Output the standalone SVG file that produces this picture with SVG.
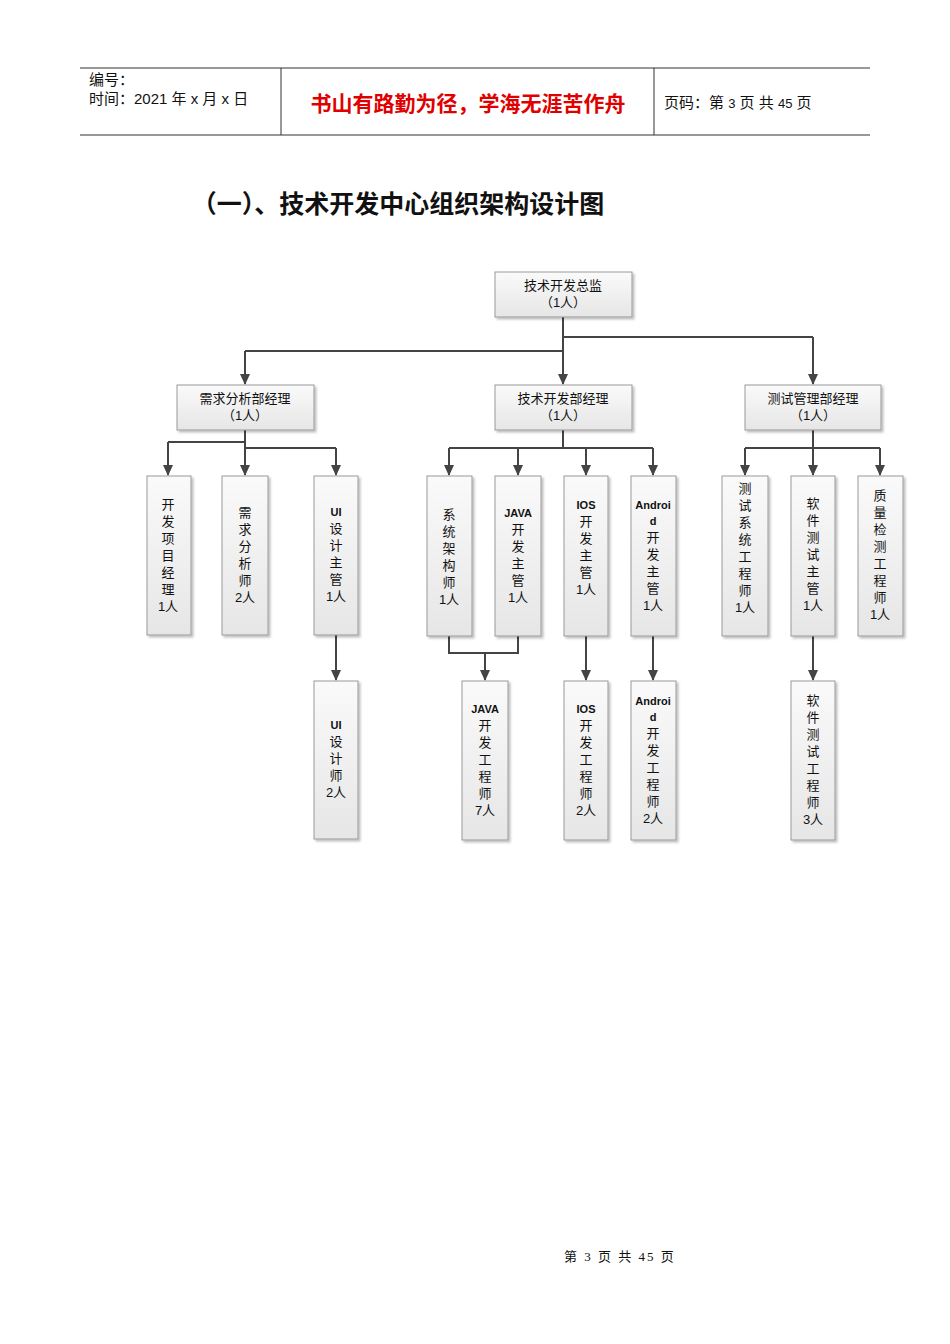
<svg xmlns="http://www.w3.org/2000/svg" width="950" height="1344" viewBox="0 0 950 1344">
<style>
text{font-family:"Liberation Sans","Noto Sans CJK SC",sans-serif;fill:#111}
.b{fill:url(#g);stroke:#999;stroke-width:1;filter:url(#s)}
.t{font-size:13px;text-anchor:middle}
.e{font-size:11px;font-weight:bold}
.c{fill:none;stroke:#444;stroke-width:2;marker-end:url(#a)}
.l{fill:none;stroke:#444;stroke-width:2}
</style>
<defs>
<linearGradient id="g" x1="0" y1="0" x2="0" y2="1"><stop offset="0" stop-color="#fafafa"/><stop offset="1" stop-color="#e6e6e6"/></linearGradient>
<filter id="s" x="-10%" y="-10%" width="130%" height="130%"><feDropShadow dx="2" dy="2" stdDeviation="1" flood-color="#000" flood-opacity="0.25"/></filter>
<marker id="a" markerWidth="11" markerHeight="11" refX="10" refY="5" orient="auto" viewBox="0 0 11 10" markerUnits="userSpaceOnUse"><path d="M0,0 L11,5 L0,10 z" fill="#444"/></marker>
</defs>
<rect width="950" height="1344" fill="#fff"/>
<g id="header">
<line x1="80" y1="68" x2="870" y2="68" stroke="#333"/>
<line x1="80" y1="135" x2="870" y2="135" stroke="#333"/>
<line x1="281" y1="68" x2="281" y2="135" stroke="#333"/>
<line x1="654" y1="68" x2="654" y2="135" stroke="#333"/>
<text x="89" y="85" font-size="15">编号：</text>
<text x="89" y="104" font-size="15">时间：2021 年 x 月 x 日</text>
<text x="468" y="111" font-size="21" font-weight="bold" text-anchor="middle" style="fill:#e00000">书山有路勤为径，学海无涯苦作舟</text>
<text x="664" y="108" font-size="15">页码：第 <tspan font-size="13">3</tspan> 页  共 <tspan font-size="13">45</tspan> 页</text>
</g>
<text x="398" y="213" font-size="25" font-weight="bold" text-anchor="middle" style="font-family:'Noto Sans CJK SC',sans-serif">（一）、技术开发中心组织架构设计图</text>
<g id="connectors">
<path class="l" d="M563,317 V351 H245"/><path class="c" d="M245,351 V384"/>
<path class="c" d="M563,317 V384"/>
<path class="l" d="M563,337 H813"/><path class="c" d="M813,337 V384"/>
<path class="l" d="M245,430 V442 H168"/><path class="c" d="M168,442 V475"/>
<path class="c" d="M245,430 V475"/>
<path class="l" d="M245,448 H336"/><path class="c" d="M336,448 V475"/>
<path class="l" d="M563,430 V448 H449"/><path class="c" d="M449,448 V475"/>
<path class="c" d="M518,448 V475"/>
<path class="l" d="M563,448 H653"/><path class="c" d="M586,448 V475"/><path class="c" d="M653,448 V475"/>
<path class="l" d="M813,430 V448 H745"/><path class="c" d="M745,448 V475"/>
<path class="c" d="M813,448 V475"/>
<path class="l" d="M813,448 H880"/><path class="c" d="M880,448 V475"/>
<path class="c" d="M336,635 V680"/>
<path class="l" d="M449,636 V653 H518 V636"/><path class="c" d="M485,653 V680"/>
<path class="c" d="M586,636 V680"/>
<path class="c" d="M653,636 V680"/>
<path class="c" d="M813,636 V680"/>
</g>
<g id="n0"><rect class="b" x="495" y="272" width="137" height="45"/><text class="t" x="563" y="290">技术开发总监<tspan x="563" dy="17">（1人）</tspan></text></g>
<g id="n1"><rect class="b" x="177" y="385" width="137" height="45"/><text class="t" x="245" y="403">需求分析部经理<tspan x="245" dy="17">（1人）</tspan></text></g>
<g id="n2"><rect class="b" x="495" y="385" width="137" height="45"/><text class="t" x="563" y="403">技术开发部经理<tspan x="563" dy="17">（1人）</tspan></text></g>
<g id="n3"><rect class="b" x="745" y="385" width="136" height="45"/><text class="t" x="813" y="403">测试管理部经理<tspan x="813" dy="17">（1人）</tspan></text></g>
<g id="n4"><rect class="b" x="147" y="476" width="44" height="159"/><text class="t" x="168" y="509">开<tspan x="168" dy="17">发</tspan><tspan x="168" dy="17">项</tspan><tspan x="168" dy="17">目</tspan><tspan x="168" dy="17">经</tspan><tspan x="168" dy="17">理</tspan><tspan x="168" dy="17">1人</tspan></text></g>
<g id="n5"><rect class="b" x="222" y="476" width="46" height="159"/><text class="t" x="245" y="517">需<tspan x="245" dy="17">求</tspan><tspan x="245" dy="17">分</tspan><tspan x="245" dy="17">析</tspan><tspan x="245" dy="17">师</tspan><tspan x="245" dy="17">2人</tspan></text></g>
<g id="n6"><rect class="b" x="314" y="476" width="44" height="159"/><text class="t" x="336" y="516"><tspan class="e">UI</tspan><tspan x="336" dy="17">设</tspan><tspan x="336" dy="17">计</tspan><tspan x="336" dy="17">主</tspan><tspan x="336" dy="17">管</tspan><tspan x="336" dy="17">1人</tspan></text></g>
<g id="n7"><rect class="b" x="427" y="476" width="45" height="160"/><text class="t" x="449" y="519">系<tspan x="449" dy="17">统</tspan><tspan x="449" dy="17">架</tspan><tspan x="449" dy="17">构</tspan><tspan x="449" dy="17">师</tspan><tspan x="449" dy="17">1人</tspan></text></g>
<g id="n8"><rect class="b" x="495" y="476" width="46" height="160"/><text class="t" x="518" y="517"><tspan class="e">JAVA</tspan><tspan x="518" dy="17">开</tspan><tspan x="518" dy="17">发</tspan><tspan x="518" dy="17">主</tspan><tspan x="518" dy="17">管</tspan><tspan x="518" dy="17">1人</tspan></text></g>
<g id="n9"><rect class="b" x="564" y="476" width="44" height="160"/><text class="t" x="586" y="509"><tspan class="e">IOS</tspan><tspan x="586" dy="17">开</tspan><tspan x="586" dy="17">发</tspan><tspan x="586" dy="17">主</tspan><tspan x="586" dy="17">管</tspan><tspan x="586" dy="17">1人</tspan></text></g>
<g id="n10"><rect class="b" x="631" y="476" width="45" height="160"/><text class="t" x="653" y="509"><tspan class="e">Androi</tspan><tspan class="e" x="653" dy="16">d</tspan><tspan x="653" dy="17">开</tspan><tspan x="653" dy="17">发</tspan><tspan x="653" dy="17">主</tspan><tspan x="653" dy="17">管</tspan><tspan x="653" dy="17">1人</tspan></text></g>
<g id="n11"><rect class="b" x="722" y="476" width="46" height="160"/><text class="t" x="745" y="493">测<tspan x="745" dy="17">试</tspan><tspan x="745" dy="17">系</tspan><tspan x="745" dy="17">统</tspan><tspan x="745" dy="17">工</tspan><tspan x="745" dy="17">程</tspan><tspan x="745" dy="17">师</tspan><tspan x="745" dy="17">1人</tspan></text></g>
<g id="n12"><rect class="b" x="791" y="476" width="44" height="160"/><text class="t" x="813" y="508">软<tspan x="813" dy="17">件</tspan><tspan x="813" dy="17">测</tspan><tspan x="813" dy="17">试</tspan><tspan x="813" dy="17">主</tspan><tspan x="813" dy="17">管</tspan><tspan x="813" dy="17">1人</tspan></text></g>
<g id="n13"><rect class="b" x="858" y="476" width="45" height="160"/><text class="t" x="880" y="500">质<tspan x="880" dy="17">量</tspan><tspan x="880" dy="17">检</tspan><tspan x="880" dy="17">测</tspan><tspan x="880" dy="17">工</tspan><tspan x="880" dy="17">程</tspan><tspan x="880" dy="17">师</tspan><tspan x="880" dy="17">1人</tspan></text></g>
<g id="n14"><rect class="b" x="314" y="681" width="44" height="158"/><text class="t" x="336" y="729"><tspan class="e">UI</tspan><tspan x="336" dy="17">设</tspan><tspan x="336" dy="17">计</tspan><tspan x="336" dy="17">师</tspan><tspan x="336" dy="17">2人</tspan></text></g>
<g id="n15"><rect class="b" x="462" y="681" width="46" height="159"/><text class="t" x="485" y="713"><tspan class="e">JAVA</tspan><tspan x="485" dy="17">开</tspan><tspan x="485" dy="17">发</tspan><tspan x="485" dy="17">工</tspan><tspan x="485" dy="17">程</tspan><tspan x="485" dy="17">师</tspan><tspan x="485" dy="17">7人</tspan></text></g>
<g id="n16"><rect class="b" x="564" y="681" width="44" height="159"/><text class="t" x="586" y="713"><tspan class="e">IOS</tspan><tspan x="586" dy="17">开</tspan><tspan x="586" dy="17">发</tspan><tspan x="586" dy="17">工</tspan><tspan x="586" dy="17">程</tspan><tspan x="586" dy="17">师</tspan><tspan x="586" dy="17">2人</tspan></text></g>
<g id="n17"><rect class="b" x="631" y="681" width="45" height="159"/><text class="t" x="653" y="705"><tspan class="e">Androi</tspan><tspan class="e" x="653" dy="16">d</tspan><tspan x="653" dy="17">开</tspan><tspan x="653" dy="17">发</tspan><tspan x="653" dy="17">工</tspan><tspan x="653" dy="17">程</tspan><tspan x="653" dy="17">师</tspan><tspan x="653" dy="17">2人</tspan></text></g>
<g id="n18"><rect class="b" x="791" y="681" width="44" height="159"/><text class="t" x="813" y="705">软<tspan x="813" dy="17">件</tspan><tspan x="813" dy="17">测</tspan><tspan x="813" dy="17">试</tspan><tspan x="813" dy="17">工</tspan><tspan x="813" dy="17">程</tspan><tspan x="813" dy="17">师</tspan><tspan x="813" dy="17">3人</tspan></text></g>
<text x="620" y="1261" font-size="13" text-anchor="middle" letter-spacing="2" style="font-family:'Liberation Serif','Noto Sans CJK SC',serif">第 3 页 共 45 页</text>
</svg>
